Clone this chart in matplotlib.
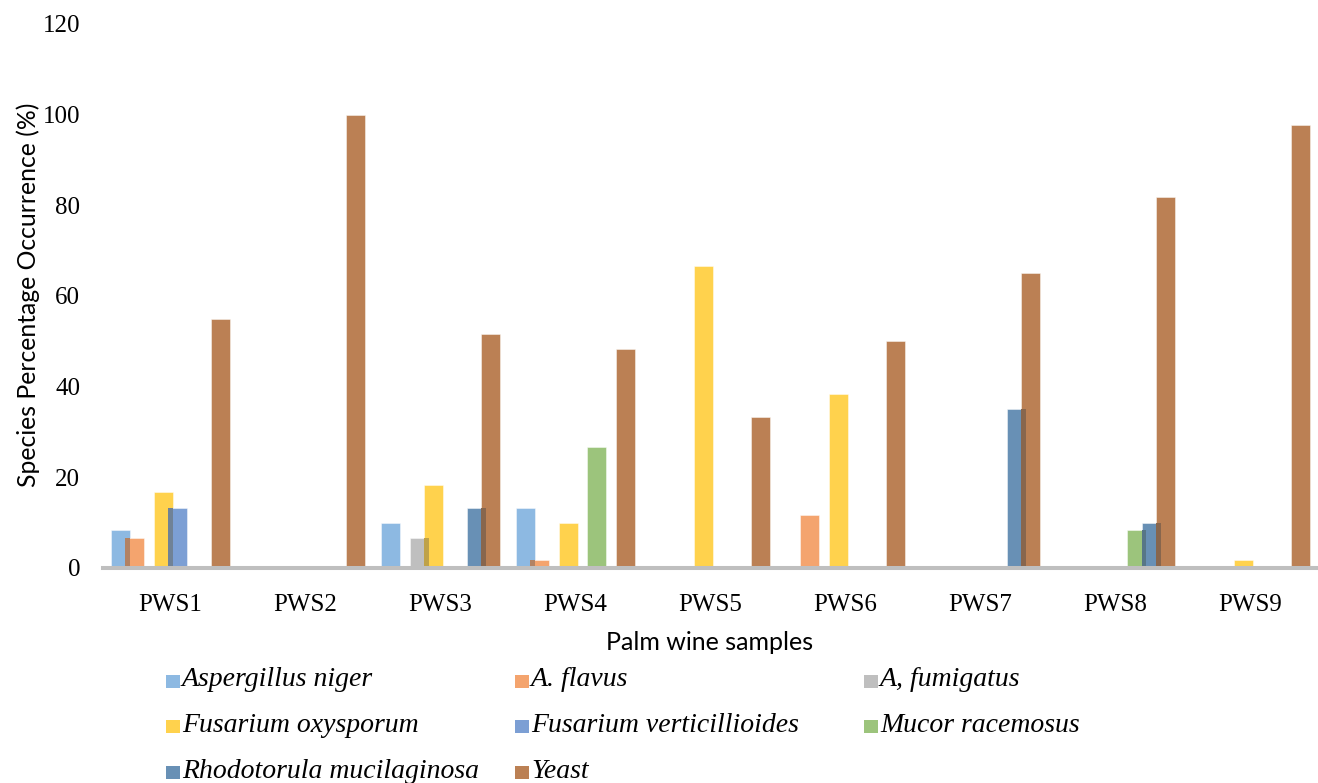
import matplotlib
matplotlib.use("Agg")
import matplotlib.pyplot as plt
from matplotlib.patches import Rectangle
import matplotlib.colors as mcolors
import numpy as np

# Palm wine samples and species occurrence (%)
samples = ["PWS1", "PWS2", "PWS3", "PWS4", "PWS5", "PWS6", "PWS7", "PWS8", "PWS9"]
species = ["Aspergillus niger", "A. flavus", "A, fumigatus", "Fusarium oxysporum",
           "Fusarium verticillioides", "Mucor racemosus", "Rhodotorula mucilaginosa", "Yeast"]

aspergillus_niger = [8.3, 0, 10.0, 13.3, 0, 0, 0, 0, 0]
a_flavus = [6.7, 0, 0, 1.7, 0, 11.7, 0, 0, 0]
a_fumigatus = [0, 0, 6.7, 0, 0, 0, 0, 0, 0]
fusarium_oxysporum = [16.7, 0, 18.3, 10.0, 66.7, 38.3, 0, 0, 1.7]
fusarium_verticillioides = [13.3, 0, 0, 0, 0, 0, 0, 0, 0]
mucor_racemosus = [0, 0, 0, 26.7, 0, 0, 0, 8.3, 0]
rhodotorula_mucilaginosa = [0, 0, 13.3, 0, 0, 0, 35.0, 10.0, 0]
yeast = [55.0, 100.0, 51.7, 48.3, 33.3, 50.0, 65.0, 81.8, 97.8]

series = [aspergillus_niger, a_flavus, a_fumigatus, fusarium_oxysporum,
          fusarium_verticillioides, mucor_racemosus, rhodotorula_mucilaginosa, yeast]
colors = ["#8db9e2", "#f4a46e", "#bfbfbf", "#ffd24d",
          "#7c9fd4", "#9cc47c", "#6890b5", "#bb8054"]

W, H = 1318, 783
fig = plt.figure(figsize=(W / 100, H / 100), dpi=100)
ax = fig.add_axes([103 / W, 1 - 568 / H, (1318 - 103) / W, (568 - 24) / H])

x = np.arange(len(samples))
step = 0.106
width = 0.141
offsets = (np.arange(len(series)) - 3.5) * step

for k, (vals, col) in enumerate(zip(series, colors)):
    vals = np.asarray(vals, dtype=float)
    mask = vals > 0
    ax.bar(x[mask] + offsets[k], vals[mask], width=width, color=col,
           edgecolor=(1, 1, 1, 0.45), linewidth=0.7, zorder=2 + k * 0.01)

# darker shading where a bar overlaps its left neighbour
for k in range(1, len(series)):
    lower = np.asarray(series[k - 1], dtype=float)
    upper = np.asarray(series[k], dtype=float)
    top_rgb = np.array(mcolors.to_rgb(colors[k]))
    low_rgb = np.array(mcolors.to_rgb(colors[k - 1]))
    shade = (0.85 * top_rgb + 0.15 * low_rgb) * 0.78
    for i in range(len(samples)):
        if lower[i] > 0 and upper[i] > 0:
            left = x[i] + offsets[k] - width / 2
            right = x[i] + offsets[k - 1] + width / 2
            ax.bar((left + right) / 2, min(lower[i], upper[i]), width=right - left,
                   color=shade, linewidth=0, zorder=3)

ax.set_xlim(-0.5, len(samples) - 0.5)
ax.set_ylim(0, 120)
ax.set_yticks(np.arange(0, 121, 20))
ax.set_xticks(x)
ax.set_xticklabels(samples)

for s in ["top", "left", "right"]:
    ax.spines[s].set_visible(False)
ax.spines["bottom"].set_color("#bfbfbf")
ax.spines["bottom"].set_linewidth(2.9)
ax.spines["bottom"].set_zorder(5)

ax.tick_params(axis="both", length=0)
ax.tick_params(axis="y", pad=16.5)
ax.tick_params(axis="x", pad=19)
for lab in ax.get_xticklabels() + ax.get_yticklabels():
    lab.set_fontfamily("Liberation Serif")
    lab.set_fontsize(18)

fig.text(28 / W, 1 - 295 / H, "Species Percentage Occurrence (%)", rotation=90,
         ha="center", va="center", fontsize=17.8, fontfamily="Lato")
fig.text(710 / W, 1 - 643 / H, "Palm wine samples", ha="center", va="center",
         fontsize=18, fontfamily="Lato")

# legend laid out in three columns
col_x = [166, 515, 864]
row_y = [680, 725, 771]
for idx, (name, col) in enumerate(zip(species, colors)):
    r, c = divmod(idx, 3)
    px, py = col_x[c], row_y[r]
    fig.add_artist(Rectangle((px / W, 1 - (py + 8) / H), 14 / W, 13 / H,
                             transform=fig.transFigure, facecolor=col, edgecolor="none"))
    fig.text((px + 16) / W, 1 - py / H, name, ha="left", va="center",
             fontsize=20, fontstyle="italic", fontfamily="Liberation Serif")

fig.savefig("out.png", dpi=100)
